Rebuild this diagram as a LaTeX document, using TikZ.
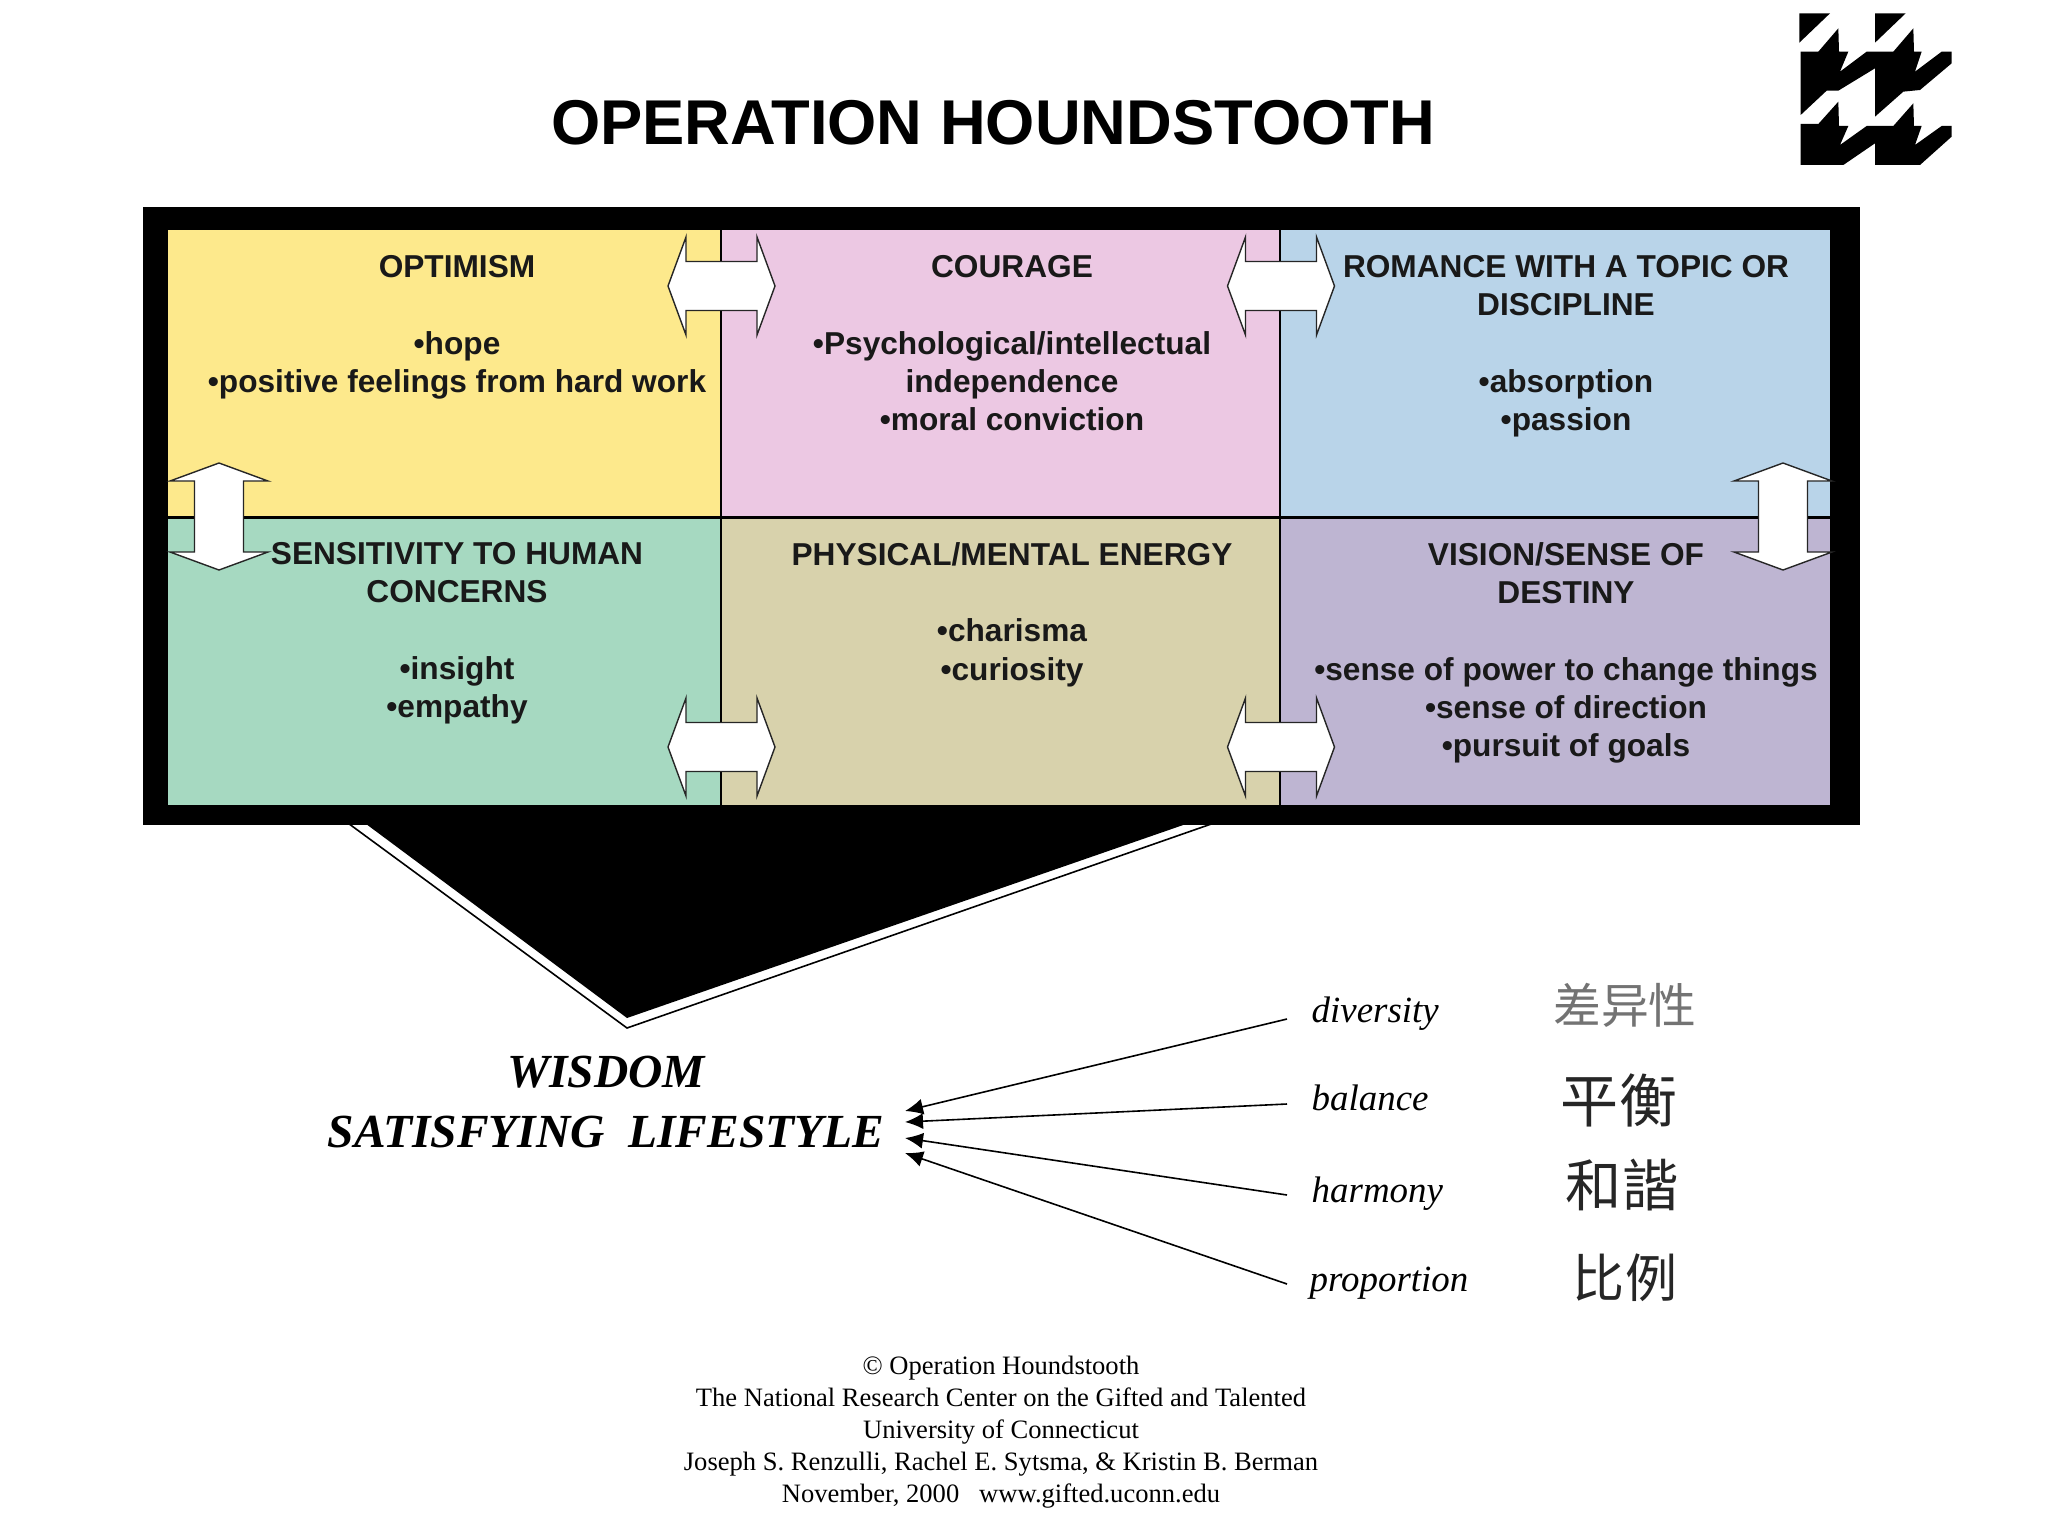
\documentclass[tikz,border=0pt]{standalone}
\usepackage{fontspec}
\setmainfont{Liberation Sans}
\newfontfamily\serifface{Liberation Serif}
\newfontfamily\cjk{Noto Sans CJK SC}
\usetikzlibrary{positioning,calc,arrows.meta}
\definecolor{cellyellow}{HTML}{FDE98C}
\definecolor{cellpink}{HTML}{ECC8E3}
\definecolor{cellblue}{HTML}{B9D4E9}
\definecolor{cellgreen}{HTML}{A6D9C1}
\definecolor{cellkhaki}{HTML}{D8D2AC}
\definecolor{cellpurple}{HTML}{BEB5D2}
\tikzset{
	cell/.style={shape=rectangle, draw=black, line width=0.22mm, inner sep=0pt, minimum height=2.89cm},
	celltext/.style={anchor=north, inner sep=0pt, align=center, text=black!90, font=\fontsize{9}{10.85}\selectfont\bfseries},
	link/.pic={\draw[draw=black!85, line width=0.14mm, fill=white] (-53.5, 0) -- (-35.5, -49) -- (-35.5, -24.5) -- (35.5, -24.5) -- (35.5, -49) -- (53.5, 0) -- (35.5, 49) -- (35.5, 24.5) -- (-35.5, 24.5) -- (-35.5, 49) -- cycle;},
	strand/.style={line width=0.16mm, -{Latex[length=1.8mm,width=1.6mm]}},
	quality/.style={anchor=west, inner sep=0pt, font=\serifface\itshape\fontsize{10.5}{12}\selectfont},
	hanzi/.style={inner sep=0pt, text=black!85, font=\cjk\fontsize{14.5}{16}\selectfont}
}
\begin{document}
\begin{tikzpicture}[x=0.01cm, y=-0.01cm]
		\useasboundingbox (0, 0) rectangle (2048, 1536);
		\fill[white] (0, 0) rectangle (2048, 1536);

		\node[font=\fontsize{18}{20}\selectfont\bfseries, inner sep=0pt] (title) at (993, 123) {OPERATION HOUNDSTOOTH};

		% logo
		\begin{scope}[shift={(1760, 0)}, scale=0.3333]
			\fill[black] (118, 40) -- (210, 40) -- (118, 128) -- cycle;
			\fill[black] (345, 40) -- (437, 40) -- (345, 128) -- cycle;
			\fill[black] (122, 155) -- (175, 155) -- (235, 85) -- (237, 155) -- (265, 155) -- (240, 215) -- (320, 155) -- (400, 155) -- (460, 85) -- (462, 155) -- (485, 155) -- (465, 215) -- (545, 155) -- (575, 155) -- (575, 190) -- (480, 270) -- (430, 275) -- (345, 350) -- (345, 205) -- (235, 272) -- (200, 272) -- (122, 345) -- cycle;
			\fill[black] (122, 372) -- (175, 372) -- (235, 305) -- (237, 378) -- (265, 378) -- (240, 435) -- (320, 378) -- (400, 378) -- (460, 310) -- (462, 378) -- (485, 378) -- (465, 435) -- (545, 378) -- (575, 378) -- (575, 410) -- (480, 495) -- (345, 495) -- (345, 430) -- (250, 495) -- (122, 495) -- cycle;
		\end{scope}

		% funnel below the frame
		\coordinate (P) at (337, 815);
		\coordinate (Q) at (627, 1028);
		\coordinate (R) at (1237, 815);
		\draw[line width=0.16mm] (P) -- (Q) -- (R);
		\fill[black] (354, 815) -- (627, 1018) -- (1212, 815) -- cycle;

		% frame and cells
		\node[shape=rectangle, fill=black, inner sep=0pt, minimum width=17.165cm, minimum height=6.18cm] (frame) at (1001.25, 516) {};
		\node[cell, fill=cellyellow, minimum width=5.545cm] (optimism) at (444.25, 373) {};
		\node[cell, fill=cellpink, minimum width=5.585cm] (courage) at (1000.75, 373) {};
		\node[cell, fill=cellblue, minimum width=5.51cm] (romance) at (1555.5, 373) {};
		\node[cell, fill=cellgreen, minimum width=5.545cm] (sensitivity) at (444.25, 662) {};
		\node[cell, fill=cellkhaki, minimum width=5.585cm] (energy) at (1000.75, 662) {};
		\node[cell, fill=cellpurple, minimum width=5.51cm] (vision) at (1555.5, 662) {};

		% links between cells
		\pic (linka) at (721.5, 286) {link};
		\pic (linkb) at (1281, 286) {link};
		\pic (linkc) at (721.5, 747) {link};
		\pic (linkd) at (1281, 747) {link};
		\pic[rotate=90] (linke) at (219, 516.5) {link};
		\pic[rotate=90] (linkf) at (1783, 516.5) {link};

		% cell texts
		\node[celltext] (optimismtext) at (457, 255) {OPTIMISM\\[10.85pt]•hope\\•positive feelings from hard work};
		\node[celltext] (couragetext) at (1012, 255) {COURAGE\\[10.85pt]•Psychological/intellectual\\independence\\•moral conviction};
		\node[celltext] (romancetext) at (1566, 255) {ROMANCE WITH A TOPIC OR\\DISCIPLINE\\[10.85pt]•absorption\\•passion};
		\node[celltext] (sensitivitytext) at (457, 542) {SENSITIVITY TO HUMAN\\CONCERNS\\[10.85pt]•insight\\•empathy};
		\node[celltext] (energytext) at (1012, 542) {PHYSICAL/MENTAL ENERGY\\[10.85pt]•charisma\\•curiosity};
		\node[celltext] (visiontext) at (1566, 542) {VISION/SENSE OF\\DESTINY\\[10.85pt]•sense of power to change things\\•sense of direction\\•pursuit of goals};

		% result
		\node[inner sep=0pt, font=\serifface\itshape\bfseries\fontsize{13.5}{16.8}\selectfont, align=center] (wisdom) at (606, 1102) {WISDOM\\SATISFYING\ \ LIFESTYLE};

		\node[quality] (diversity) at (1311, 1014) {diversity};
		\node[quality] (balance) at (1311, 1098) {balance};
		\node[quality] (harmony) at (1311, 1194) {harmony};
		\node[quality] (proportion) at (1309, 1283) {proportion};

		\coordinate (tipa) at (905, 1111);
		\coordinate (tipb) at (905, 1122);
		\coordinate (tipc) at (905, 1138);
		\coordinate (tipd) at (905, 1153);
		\draw[strand] ($(diversity.west) + (-24, 5)$) -- (tipa);
		\draw[strand] ($(balance.west) + (-24, 6)$) -- (tipb);
		\draw[strand] ($(harmony.west) + (-24, 1)$) -- (tipc);
		\draw[strand] ($(proportion.west) + (-22, 1)$) -- (tipd);

		\node[hanzi, font=\cjk\fontsize{13.6}{16}\selectfont, text=black!55] (chaa) at (1625, 1005) {差异性};
		\node[hanzi, font=\cjk\fontsize{16.5}{18}\selectfont] (chab) at (1619, 1100) {平衡};
		\node[hanzi, font=\cjk\fontsize{16}{18}\selectfont] (chac) at (1622, 1185) {和諧};
		\node[hanzi, font=\cjk\fontsize{14.8}{18}\selectfont] (chad) at (1625, 1278) {比例};

		% credits
		\node[inner sep=0pt, align=center, font=\serifface\fontsize{7.55}{9.1}\selectfont] (credits) at (1001, 1432) {© Operation Houndstooth\\The National Research Center on the Gifted and Talented\\University of Connecticut\\Joseph S. Renzulli, Rachel E. Sytsma, \& Kristin B. Berman\\November, 2000\ \ \ www.gifted.uconn.edu};
	\end{tikzpicture}
\end{document}
